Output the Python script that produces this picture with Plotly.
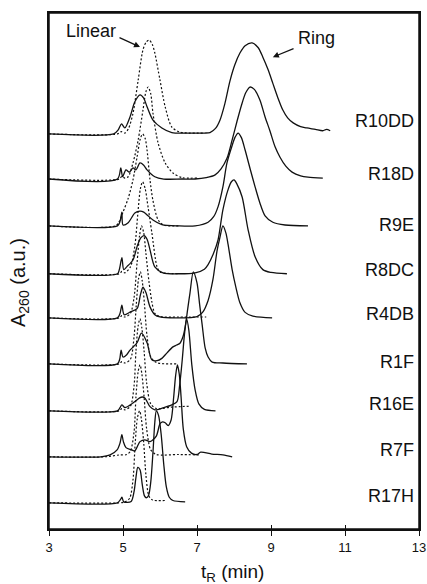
import plotly.graph_objects as go

# ---------------- data ----------------
labels = ["R10DD", "R18D", "R9E", "R8DC", "R4DB", "R1F", "R16E", "R7F", "R17H"]
offsets = [8.59, 7.61, 6.59, 5.55, 4.59, 3.59, 2.57, 1.57, 0.57]
label_y = [8.87, 7.72, 6.61, 5.63, 4.67, 3.63, 2.72, 1.72, 0.72]
x_ticks = [3, 5, 7, 9, 11, 13]

# Ring samples (solid lines): retention time (min), absorbance above own baseline (a.u.)
R10DD_ring_t = [3.0, 4.75, 4.87, 4.96, 5.05, 5.19, 5.32, 5.46, 5.56, 5.65, 5.81, 6.05, 6.32, 6.8, 7.2, 7.35, 7.5, 7.62, 7.75, 7.89, 8.02, 8.16, 8.3, 8.49, 8.65, 8.78, 8.92, 9.05, 9.18, 9.32, 9.45, 9.6, 9.8, 9.97, 10.2, 10.4, 10.5, 10.6]
R10DD_ring_a = [0, 0, 0.09, 0.22, 0.13, 0.37, 0.7, 0.85, 0.78, 0.59, 0.3, 0.13, 0.03, 0.02, 0.02, 0.03, 0.12, 0.3, 0.65, 1.15, 1.5, 1.76, 1.92, 1.98, 1.88, 1.67, 1.4, 1.1, 0.8, 0.52, 0.35, 0.24, 0.16, 0.13, 0.1, 0.07, 0.1, 0.07]

R18D_ring_t = [3.0, 4.85, 4.94, 4.99, 5.08, 5.17, 5.27, 5.35, 5.46, 5.56, 5.65, 5.86, 6.1, 6.6, 6.95, 7.25, 7.49, 7.65, 7.81, 7.95, 8.08, 8.2, 8.32, 8.43, 8.55, 8.7, 8.84, 8.97, 9.11, 9.24, 9.4, 9.57, 9.8, 10.0, 10.4]
R18D_ring_a = [0, 0, 0.24, 0.05, 0.2, 0.15, 0.24, 0.2, 0.35, 0.3, 0.2, 0.05, 0.0, 0.0, 0.0, 0.03, 0.09, 0.22, 0.45, 0.85, 1.25, 1.6, 1.88, 2.0, 1.95, 1.72, 1.35, 1.05, 0.7, 0.48, 0.28, 0.15, 0.07, 0.04, 0.02]

R9E_ring_t = [3.0, 4.85, 4.92, 4.97, 5.0, 5.14, 5.32, 5.46, 5.56, 5.65, 5.81, 6.05, 6.5, 6.95, 7.3, 7.45, 7.57, 7.7, 7.81, 7.95, 8.03, 8.11, 8.2, 8.3, 8.45, 8.57, 8.7, 8.84, 9.05, 9.38, 10.0]
R9E_ring_a = [0, 0, 0.1, 0.3, 0.02, 0.07, 0.28, 0.32, 0.3, 0.24, 0.13, 0.03, 0.0, 0.0, 0.08, 0.2, 0.42, 0.85, 1.37, 1.75, 1.93, 2.02, 1.92, 1.65, 1.2, 0.85, 0.5, 0.22, 0.08, 0.02, 0.0]

R8DC_ring_t = [3.0, 4.85, 4.9, 4.97, 5.02, 5.1, 5.27, 5.38, 5.48, 5.57, 5.65, 5.73, 5.86, 6.08, 6.5, 6.95, 7.2, 7.3, 7.45, 7.57, 7.7, 7.84, 7.93, 8.0, 8.08, 8.22, 8.38, 8.57, 8.78, 9.0, 9.43]
R8DC_ring_a = [0, 0, 0.09, 0.35, 0.09, 0.15, 0.3, 0.59, 0.78, 0.83, 0.75, 0.52, 0.15, 0.02, 0.0, 0.02, 0.1, 0.2, 0.45, 0.74, 1.39, 1.83, 2.0, 2.04, 1.95, 1.67, 0.96, 0.37, 0.09, 0.03, 0.0]

R4DB_ring_t = [3.0, 4.85, 4.92, 4.97, 5.03, 5.2, 5.38, 5.47, 5.54, 5.62, 5.73, 5.86, 6.0, 6.5, 7.0, 7.15, 7.3, 7.43, 7.54, 7.62, 7.7, 7.78, 7.84, 7.95, 8.05, 8.16, 8.3, 8.51, 9.03]
R4DB_ring_a = [0, 0, 0.1, 0.28, 0.07, 0.13, 0.2, 0.5, 0.67, 0.55, 0.24, 0.07, 0.02, 0.0, 0.03, 0.12, 0.38, 0.83, 1.45, 1.75, 2.0, 1.85, 1.6, 1.05, 0.67, 0.33, 0.12, 0.04, 0.0]

R1F_ring_t = [3.0, 4.85, 4.91, 4.95, 5.0, 5.1, 5.19, 5.38, 5.5, 5.65, 5.78, 5.92, 6.05, 6.19, 6.35, 6.45, 6.54, 6.62, 6.68, 6.75, 6.81, 6.9, 7.0, 7.07, 7.14, 7.22, 7.3, 7.41, 7.7, 8.35]
R1F_ring_a = [0, 0, 0.1, 0.3, 0.15, 0.2, 0.3, 0.46, 0.67, 0.46, 0.09, 0.07, 0.12, 0.24, 0.37, 0.41, 0.45, 0.59, 0.8, 1.2, 1.54, 2.0, 1.76, 1.3, 0.85, 0.35, 0.15, 0.04, 0.02, 0.0]

R16E_ring_t = [3.0, 4.85, 4.92, 4.97, 5.05, 5.27, 5.45, 5.52, 5.59, 5.73, 5.86, 6.1, 6.32, 6.46, 6.53, 6.6, 6.66, 6.72, 6.78, 6.86, 6.95, 7.05, 7.2, 7.5]
R16E_ring_a = [0, 0, 0.07, 0.13, 0.07, 0.17, 0.28, 0.3, 0.28, 0.09, 0.02, 0.07, 0.13, 0.2, 0.55, 1.1, 1.65, 2.0, 1.75, 1.0, 0.45, 0.15, 0.03, 0.0]

R7F_ring_t = [3.0, 4.4, 4.65, 4.84, 4.92, 4.97, 5.01, 5.08, 5.24, 5.32, 5.46, 5.59, 5.73, 5.9, 6.0, 6.07, 6.14, 6.22, 6.3, 6.37, 6.42, 6.47, 6.52, 6.57, 6.63, 6.72, 6.85, 7.0, 7.1, 7.4, 7.7, 7.95]
R7F_ring_a = [0, 0, 0.04, 0.15, 0.3, 0.48, 0.33, 0.2, 0.15, 0.13, 0.33, 0.37, 0.33, 0.45, 0.72, 0.76, 0.74, 0.68, 0.8, 1.3, 1.75, 2.0, 1.8, 1.3, 0.6, 0.22, 0.08, 0.05, 0.1, 0.06, 0.04, 0.0]

R17H_ring_t = [3.0, 4.85, 4.93, 4.97, 5.02, 5.22, 5.3, 5.35, 5.4, 5.46, 5.52, 5.58, 5.63, 5.69, 5.75, 5.81, 5.86, 5.9, 5.96, 6.03, 6.1, 6.17, 6.25, 6.35, 6.68]
R17H_ring_a = [0, 0, 0.07, 0.12, 0.02, 0.03, 0.25, 0.55, 0.77, 0.72, 0.4, 0.15, 0.11, 0.16, 0.45, 1.1, 1.75, 2.0, 1.9, 1.5, 0.85, 0.35, 0.12, 0.05, 0.02]

# Linear references (dotted lines)
R10DD_lin_t = [3.0, 4.85, 4.95, 5.05, 5.15, 5.27, 5.41, 5.54, 5.63, 5.71, 5.79, 5.86, 6.0, 6.14, 6.32, 6.54, 7.2]
R10DD_lin_a = [0, 0, 0.05, 0.02, 0.12, 0.45, 1.17, 1.83, 2.0, 2.04, 1.95, 1.76, 1.17, 0.59, 0.15, 0.04, 0.02]

R18D_lin_t = [3.0, 4.9, 4.97, 5.05, 5.14, 5.27, 5.41, 5.54, 5.62, 5.68, 5.75, 5.81, 5.95, 6.14, 6.35, 6.6, 7.0]
R18D_lin_a = [0, 0, 0.06, 0.02, 0.05, 0.35, 0.85, 1.5, 1.9, 2.0, 1.85, 1.43, 0.78, 0.35, 0.13, 0.03, 0.02]

R9E_lin_t = [3.0, 4.8, 4.9, 5.0, 5.14, 5.27, 5.38, 5.47, 5.53, 5.6, 5.65, 5.73, 5.81, 5.95, 6.1, 6.5]
R9E_lin_a = [0, 0, 0.1, 0.3, 0.6, 1.0, 1.5, 1.9, 2.0, 1.9, 1.65, 1.0, 0.55, 0.13, 0.02, 0.0]

R8DC_lin_t = [3.0, 4.9, 4.97, 5.05, 5.2, 5.32, 5.4, 5.47, 5.53, 5.6, 5.65, 5.78, 5.92, 6.0, 6.5]
R8DC_lin_a = [0, 0, 0.05, 0.02, 0.15, 0.6, 1.3, 1.85, 2.0, 1.85, 1.6, 0.89, 0.15, 0.04, 0.0]

R4DB_lin_t = [3.0, 4.9, 4.97, 5.05, 5.2, 5.3, 5.38, 5.45, 5.5, 5.56, 5.62, 5.7, 5.78, 5.86, 6.0, 6.5, 7.25]
R4DB_lin_a = [0, 0, 0.05, 0.02, 0.1, 0.45, 1.2, 1.8, 2.0, 1.85, 1.4, 0.8, 0.35, 0.1, 0.03, 0.02, 0.02]

R1F_lin_t = [3.0, 4.9, 4.97, 5.05, 5.2, 5.3, 5.36, 5.42, 5.47, 5.52, 5.58, 5.65, 5.75, 5.9, 6.46]
R1F_lin_a = [0, 0, 0.05, 0.02, 0.1, 0.6, 1.3, 1.85, 2.0, 1.8, 1.3, 0.6, 0.15, 0.03, 0.0]

R16E_lin_t = [3.0, 4.9, 4.97, 5.05, 5.2, 5.3, 5.35, 5.41, 5.46, 5.51, 5.57, 5.64, 5.75, 5.9, 6.3, 6.8]
R16E_lin_a = [0, 0, 0.05, 0.02, 0.1, 0.55, 1.3, 1.85, 2.0, 1.8, 1.3, 0.6, 0.15, 0.05, 0.08, 0.1]

R7F_lin_t = [3.0, 4.5, 4.9, 5.1, 5.2, 5.3, 5.35, 5.41, 5.46, 5.51, 5.57, 5.64, 5.75, 5.9, 6.5, 7.1]
R7F_lin_a = [0, 0, 0.04, 0.05, 0.12, 0.55, 1.3, 1.85, 2.0, 1.8, 1.3, 0.6, 0.15, 0.05, 0.05, 0.04]

R17H_lin_t = [3.0, 4.9, 5.05, 5.18, 5.27, 5.33, 5.39, 5.45, 5.5, 5.56, 5.62, 5.7, 5.8, 6.14]
R17H_lin_a = [0, 0, 0.02, 0.1, 0.5, 1.3, 1.85, 2.0, 1.8, 1.3, 0.6, 0.15, 0.06, 0.05]

ring_series = [
    (R10DD_ring_t, R10DD_ring_a), (R18D_ring_t, R18D_ring_a), (R9E_ring_t, R9E_ring_a),
    (R8DC_ring_t, R8DC_ring_a), (R4DB_ring_t, R4DB_ring_a), (R1F_ring_t, R1F_ring_a),
    (R16E_ring_t, R16E_ring_a), (R7F_ring_t, R7F_ring_a), (R17H_ring_t, R17H_ring_a),
]
lin_series = [
    (R10DD_lin_t, R10DD_lin_a), (R18D_lin_t, R18D_lin_a), (R9E_lin_t, R9E_lin_a),
    (R8DC_lin_t, R8DC_lin_a), (R4DB_lin_t, R4DB_lin_a), (R1F_lin_t, R1F_lin_a),
    (R16E_lin_t, R16E_lin_a), (R7F_lin_t, R7F_lin_a), (R17H_lin_t, R17H_lin_a),
]

# ---------------- figure ----------------
FONT = "Liberation Sans, Arial, sans-serif"
INK = "#111111"
fig = go.Figure()

for i, (t, a) in enumerate(lin_series):
    fig.add_trace(go.Scatter(
        x=t, y=[offsets[i] + v for v in a], mode="lines",
        line=dict(color=INK, width=1.2, dash="2px,2px", shape="spline", smoothing=0.8),
        hoverinfo="skip", showlegend=False,
        xaxis="x2" if i == len(lin_series) - 1 else "x",
    ))

for i, (t, a) in enumerate(ring_series):
    fig.add_trace(go.Scatter(
        x=t, y=[offsets[i] + v for v in a], mode="lines",
        line=dict(color=INK, width=1.3, shape="spline", smoothing=0.8),
        hoverinfo="skip", showlegend=False,
    ))

annotations = []
for lab, ly in zip(labels, label_y):
    annotations.append(dict(x=12.93, y=ly, xref="x", yref="y", text=lab, showarrow=False,
                            xanchor="right", yanchor="middle",
                            font=dict(family=FONT, size=18, color=INK)))

annotations += [
    dict(x=4.135, y=10.82, xref="x", yref="y", text="Linear", showarrow=False,
         font=dict(family=FONT, size=18, color=INK)),
    dict(x=10.22, y=10.68, xref="x", yref="y", text="Ring", showarrow=False,
         font=dict(family=FONT, size=18, color=INK)),
    dict(x=5.46, y=10.48, ax=4.865, ay=10.70, xref="x", yref="y", axref="x", ayref="y",
         text="", showarrow=True, arrowhead=2, arrowsize=1, arrowwidth=1.2,
         arrowcolor=INK, standoff=0, startstandoff=0),
    dict(x=9.05, y=10.26, ax=9.65, ay=10.46, xref="x", yref="y", axref="x", ayref="y",
         text="", showarrow=True, arrowhead=2, arrowsize=1, arrowwidth=1.2,
         arrowcolor=INK, standoff=0, startstandoff=0),
    dict(x=-0.078, y=0.477, xref="paper", yref="paper", text="A<sub>260</sub> (a.u.)",
         textangle=-90, showarrow=False, xanchor="center", yanchor="middle",
         font=dict(family=FONT, size=20, color=INK)),
    dict(x=0.497, y=-0.086, xref="paper", yref="paper", text="t<sub>R</sub> (min)",
         showarrow=False, xanchor="center", yanchor="middle",
         font=dict(family=FONT, size=19, color=INK)),
]

fig.update_layout(
    template="none",
    width=427, height=584,
    margin=dict(l=49, r=8, t=13, b=55, pad=0, autoexpand=False),
    paper_bgcolor="white", plot_bgcolor="white",
    showlegend=False,
    annotations=annotations,
    shapes=[dict(type="rect", xref="paper", yref="paper", x0=0, x1=1, y0=0, y1=1,
                 line=dict(color=INK, width=1.5), fillcolor="rgba(0,0,0,0)", layer="above")],
    xaxis=dict(range=[3, 13], tickvals=x_ticks, ticktext=[str(v) for v in x_ticks],
               ticks="outside", ticklen=5, tickwidth=1.3, tickcolor=INK,
               showline=True, linewidth=1.8, linecolor=INK, mirror=True,
               showgrid=False, zeroline=False, automargin=False,
               ticklabeloverflow="allow",
               tickfont=dict(family=FONT, size=13, color=INK)),
    xaxis2=dict(range=[3, 13], overlaying="x", anchor="y", side="bottom",
                tickvals=x_ticks, ticks="inside", ticklen=4, tickwidth=1.3, tickcolor=INK,
                showticklabels=False, showline=False, showgrid=False, zeroline=False,
                automargin=False),
    yaxis=dict(range=[0, 11.22], showticklabels=False, ticks="",
               showline=True, linewidth=1.5, linecolor=INK, mirror=True,
               showgrid=False, zeroline=False, automargin=False),
)

fig.write_html("out.html", config={"displayModeBar": False},
               post_script="document.body.style.margin='0px';document.body.style.overflow='hidden';")
